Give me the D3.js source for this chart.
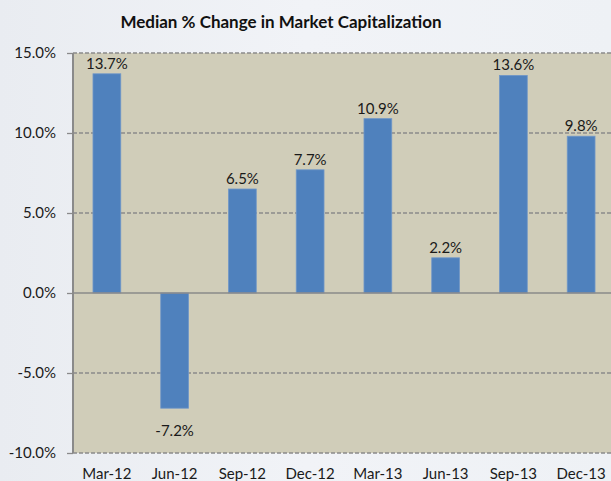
<!DOCTYPE html>
<html>
<head>
<meta charset="utf-8">
<script src="https://cdn.jsdelivr.net/npm/d3@7"></script>
<style>
  html, body { margin: 0; padding: 0; }
  body { width: 611px; height: 481px; overflow: hidden;
         background: linear-gradient(90deg, #e9ecf1 0%, #f1f3f7 50%, #eef1f5 100%);
         font-family: Lato, "Open Sans", sans-serif; }
</style>
</head>
<body>
<div id="chart"></div>
<script>
const quarters = [`Mar-12`, `Jun-12`, `Sep-12`, `Dec-12`, `Mar-13`, `Jun-13`, `Sep-13`, `Dec-13`];
const medianChange = [13.7, -7.2, 6.5, 7.7, 10.9, 2.2, 13.6, 9.8];
const yTicks = [-10, -5, 0, 5, 10, 15];

const width = 611, height = 481;
const plot = { left: 73, top: 53, right: 615, bottom: 453 };

// Excel-style percent with a plain hyphen for negatives
const pct = (d) => `${d < 0 ? `-` : ``}${Math.abs(d).toFixed(1)}%`;

const svg = d3.select(`#chart`).append(`svg`)
    .attr(`width`, width)
    .attr(`height`, height);

const x = d3.scaleBand()
    .domain(quarters)
    .range([plot.left, plot.right])
    .paddingInner(0.59)
    .paddingOuter(0.295);

const y = d3.scaleLinear()
    .domain([-10, 15])
    .range([plot.bottom, plot.top]);

// plot background
svg.append(`rect`)
    .attr(`x`, plot.left)
    .attr(`y`, plot.top)
    .attr(`width`, plot.right - plot.left)
    .attr(`height`, plot.bottom - plot.top)
    .attr(`fill`, `#d0cdb9`);

// gridlines (dashed), zero line drawn solid later
svg.append(`g`)
  .selectAll(`line`)
  .data(yTicks.filter((d) => d !== 0))
  .enter().append(`line`)
    .attr(`x1`, plot.left)
    .attr(`x2`, plot.right)
    .attr(`y1`, (d) => y(d))
    .attr(`y2`, (d) => y(d))
    .attr(`stroke`, `#8a8a8a`)
    .attr(`stroke-width`, 1.3)
    .attr(`stroke-dasharray`, `4,2`);

const yAxis = svg.append(`g`)
    .attr(`transform`, `translate(${plot.left},0)`)
    .call(d3.axisLeft(y).tickValues(yTicks).tickSize(6).tickPadding(11).tickFormat(pct));
yAxis.select(`.domain`).remove();
yAxis.selectAll(`line`).attr(`stroke`, `#8a8a8a`).attr(`stroke-width`, 1.3);
yAxis.selectAll(`text`)
    .attr(`fill`, `#1a1a1a`)
    .style(`font-size`, `15px`)
    .style(`font-family`, `Lato, "Open Sans", sans-serif`);

// bars
svg.append(`g`)
  .selectAll(`rect`)
  .data(medianChange)
  .enter().append(`rect`)
    .attr(`x`, (d, i) => x(quarters[i]))
    .attr(`y`, (d) => y(Math.max(0, d)))
    .attr(`width`, x.bandwidth())
    .attr(`height`, (d) => Math.abs(y(d) - y(0)))
    .attr(`fill`, `#4f81bd`)
    .attr(`stroke`, `#7097c8`)
    .attr(`stroke-width`, 0.8);

// zero line and left axis line
svg.append(`line`)
    .attr(`x1`, plot.left).attr(`x2`, plot.right)
    .attr(`y1`, y(0)).attr(`y2`, y(0))
    .attr(`stroke`, `#8a8a8a`).attr(`stroke-width`, 1.5);
svg.append(`line`)
    .attr(`x1`, plot.left).attr(`x2`, plot.left)
    .attr(`y1`, plot.top).attr(`y2`, plot.bottom)
    .attr(`stroke`, `#8a8a8a`).attr(`stroke-width`, 2);

// value labels
svg.append(`g`)
  .selectAll(`text`)
  .data(medianChange)
  .enter().append(`text`)
    .attr(`x`, (d, i) => x(quarters[i]) + x.bandwidth() / 2)
    .attr(`y`, (d) => d >= 0 ? y(d) - 5 : y(d) + 28)
    .attr(`text-anchor`, `middle`)
    .attr(`fill`, `#1a1a1a`)
    .style(`font-size`, `15px`)
    .text(pct);

// category labels
svg.append(`g`)
  .selectAll(`text`)
  .data(quarters)
  .enter().append(`text`)
    .attr(`x`, (d) => x(d) + x.bandwidth() / 2)
    .attr(`y`, 479)
    .attr(`text-anchor`, `middle`)
    .attr(`fill`, `#1a1a1a`)
    .style(`font-size`, `15px`)
    .text((d) => d);

// title
svg.append(`text`)
    .attr(`x`, 281)
    .attr(`y`, 28)
    .attr(`text-anchor`, `middle`)
    .attr(`fill`, `#111`)
    .style(`font-size`, `17px`)
    .style(`font-weight`, `bold`)
    .text(`Median % Change in Market Capitalization`);
</script>
</body>
</html>
